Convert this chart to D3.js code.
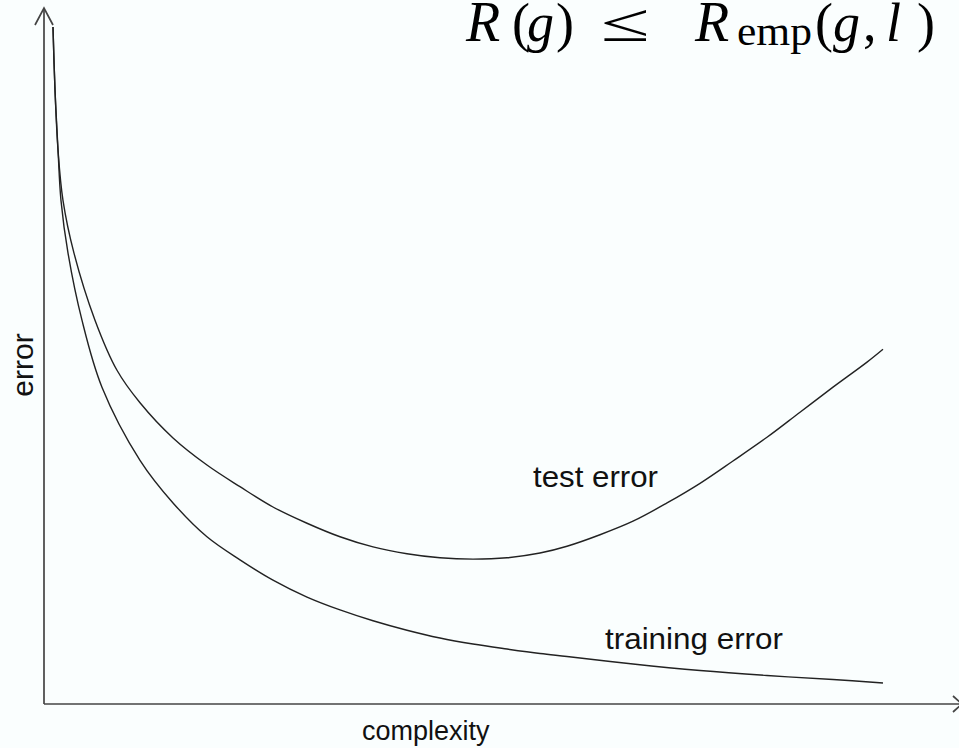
<!DOCTYPE html>
<html>
<head>
<meta charset="utf-8">
<script src="https://cdn.jsdelivr.net/npm/d3@7"></script>
<style>
  html, body { margin: 0; padding: 0; background: #fafefe; }
  svg { display: block; }
  .label { font-family: "Liberation Sans", Arial, sans-serif; fill: #111; }
  .formula text { font-family: "Liberation Serif", "Times New Roman", serif; fill: #000; }
</style>
</head>
<body>
<svg id="chart" width="959" height="748"></svg>
<script>
/* global d3 */

// complexity (0-100) vs error (0-100)
var testComplexity = [1.07, 1.31, 1.67, 2.26, 3.57, 6.07, 8.69, 11.43, 15.36, 19.4, 23.33,
                      27.26, 31.31, 35.24, 39.17, 43.21, 47.14, 51.07, 55.12, 59.05,
                      62.26, 66.19, 70.12, 74.17, 78.1, 82.02, 86.07, 90, 93.93, 97.98, 99.88];
var testError      = [100, 90.7, 81.8, 74.4, 66.6, 56.7, 49.3, 44.5, 39.3, 35.3, 32.1,
                      29.1, 26.7, 24.7, 23.2, 22.2, 21.6, 21.4, 21.6, 22.3,
                      23.3, 25.0, 27.0, 29.7, 32.6, 35.9, 39.4, 43.1, 46.8, 50.5, 52.4];

var trainComplexity = [1.07, 1.31, 1.67, 2.02, 2.86, 4.52, 6.9, 11.43, 15.36, 19.4, 23.33,
                       27.26, 31.31, 35.24, 39.17, 43.21, 47.14, 51.07, 55.12, 59.05,
                       62.26, 70.12, 78.1, 86.07, 93.93, 99.88];
var trainError      = [100, 90.7, 81.8, 74.4, 66.6, 56.7, 46.8, 36.0, 29.7, 24.7, 21.3,
                       18.3, 15.8, 13.9, 12.3, 10.9, 9.75, 8.86, 8.12, 7.46,
                       7.02, 5.91, 4.95, 4.21, 3.62, 3.10];

var seriesNames = ["test error", "training error"];
var axisLabels = ["complexity", "error"];

var svg = d3.select("#chart")
  , x = d3.scaleLinear().domain([0, 100]).range([44, 884])
  , y = d3.scaleLinear().domain([0, 100]).range([704, 27])
  , line = d3.line()
      .x(function(d) { return x(d[0]); })
      .y(function(d) { return y(d[1]); })
      .curve(d3.curveCatmullRom.alpha(0.5))
;

var series = [
  d3.zip(testComplexity, testError),
  d3.zip(trainComplexity, trainError)
];

// Axes: plain lines with open arrow heads
var x0 = x.range()[0], y0 = y.range()[0];
var axes = svg.append("g")
    .attr("fill", "none")
    .attr("stroke", "#444")
    .attr("stroke-width", 1.7)
;
axes.append("path")
    .attr("d", "M" + x0 + "," + y0 + "V8");
axes.append("path")
    .attr("d", "M" + (x0 - 9) + ",25L" + x0 + ",8L" + (x0 + 9) + ",25");
axes.append("path")
    .attr("d", "M" + x0 + "," + y0 + "H962");
axes.append("path")
    .attr("d", "M953," + (y0 - 8) + "L962," + y0 + "L953," + (y0 + 8));

// Curves
svg.append("g")
  .selectAll("path")
    .data(series)
  .enter().append("path")
    .attr("d", line)
    .attr("fill", "none")
    .attr("stroke", "#222")
    .attr("stroke-width", 1.4)
;

// Curve labels
svg.append("text")
    .attr("class", "label")
    .attr("x", 533).attr("y", 487)
    .attr("font-size", 29)
    .attr("textLength", 125).attr("lengthAdjust", "spacingAndGlyphs")
    .text(seriesNames[0]);
svg.append("text")
    .attr("class", "label")
    .attr("x", 605).attr("y", 649)
    .attr("font-size", 29)
    .attr("textLength", 178).attr("lengthAdjust", "spacingAndGlyphs")
    .text(seriesNames[1]);

// Axis labels
svg.append("text")
    .attr("class", "label")
    .attr("x", 362).attr("y", 740)
    .attr("font-size", 27)
    .text(axisLabels[0]);
svg.append("text")
    .attr("class", "label")
    .attr("transform", "translate(33,365) rotate(-90)")
    .attr("text-anchor", "middle")
    .attr("font-size", 30)
    .text(axisLabels[1]);

// Formula R(g) <= R_emp(g,l)
var formula = svg.append("g").attr("class", "formula");
var pieces = [
  { t: "R",   x: 466, y: 41, s: 56, i: true },
  { t: "(",   x: 512, y: 41, s: 54 },
  { t: "g",   x: 527, y: 41, s: 54, i: true },
  { t: ")",   x: 556, y: 41, s: 54 },
  { t: "\u2264", x: 601, y: 41, s: 54, w: 49 },
  { t: "R",   x: 695, y: 41, s: 56, i: true },
  { t: "emp", x: 737, y: 45, s: 40, w: 75 },
  { t: "(",   x: 815, y: 41, s: 54 },
  { t: "g",   x: 833, y: 41, s: 54, i: true },
  { t: ",",   x: 863, y: 41, s: 54 },
  { t: "l",   x: 886, y: 41, s: 54, i: true },
  { t: ")",   x: 917, y: 41, s: 54 }
];
formula.selectAll("text")
    .data(pieces)
  .enter().append("text")
    .attr("x", function(d) { return d.x; })
    .attr("y", function(d) { return d.y; })
    .attr("font-size", function(d) { return d.s; })
    .attr("font-style", function(d) { return d.i ? "italic" : "normal"; })
    .attr("textLength", function(d) { return d.w || null; })
    .attr("lengthAdjust", "spacingAndGlyphs")
    .text(function(d) { return d.t; })
;
</script>
</body>
</html>
